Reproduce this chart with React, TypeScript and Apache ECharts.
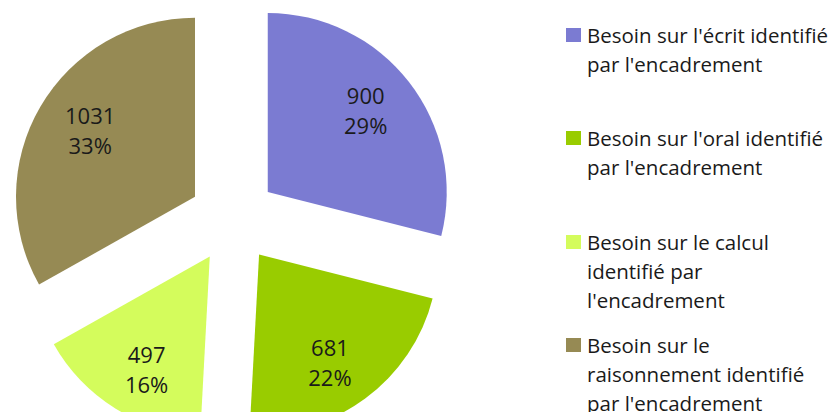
import React, { useEffect, useRef } from "react";
import * as echarts from "echarts";

const categories = [
  "Besoin sur l'écrit identifié par l'encadrement",
  "Besoin sur l'oral identifié par l'encadrement",
  "Besoin sur le calcul identifié par l'encadrement",
  "Besoin sur le raisonnement identifié par l'encadrement",
];
const legendLabels = [
  "Besoin sur l'écrit identifié\npar l'encadrement",
  "Besoin sur l'oral identifié\npar l'encadrement",
  "Besoin sur le calcul\nidentifié par\nl'encadrement",
  "Besoin sur le\nraisonnement identifié\npar l'encadrement",
];
const values = [900, 681, 497, 1031];
const colors = ["#7b7bd2", "#99cc00", "#d4fc5c", "#968a54"];

// layout / style constants (not data)
const legendFirstLineY = [35, 138, 242, 345];
const labelNudge = [
  [-7, -8],
  [-8, 0],
  [7, 2],
  [10, -5],
];

const FONT = "'Open Sans', 'Noto Sans', sans-serif";

function nudgePadding(dx: number, dy: number) {
  // [top, right, bottom, left]
  return [
    dy > 0 ? 2 * dy : 0,
    dx < 0 ? -2 * dx : 0,
    dy < 0 ? -2 * dy : 0,
    dx > 0 ? 2 * dx : 0,
  ];
}

export default function App() {
  const ref = useRef<HTMLDivElement>(null);
  useEffect(() => {
    if (!ref.current) return;
    const chart = echarts.init(ref.current, undefined, { renderer: "svg" });
    const total = values.reduce((a, b) => a + b, 0);
    const data = categories.map((name, i) => ({
      name,
      value: values[i],
      selected: true,
      itemStyle: { color: colors[i] },
    }));
    const labelData = categories.map((name, i) => ({
      name,
      value: values[i],
      selected: true,
      itemStyle: { color: "rgba(0,0,0,0)" },
      label: { padding: nudgePadding(labelNudge[i][0], labelNudge[i][1]) },
    }));
    const legendGraphics: any[] = [];
    legendLabels.forEach((t, i) => {
      const cy = legendFirstLineY[i];
      legendGraphics.push({
        type: "rect",
        shape: { x: 566, y: cy - 7, width: 15, height: 14 },
        style: { fill: colors[i] },
      });
      legendGraphics.push({
        type: "text",
        x: 587,
        y: cy - 14.5,
        style: {
          text: t,
          fill: "#1a1a1a",
          font: `20.5px ${FONT}`,
          lineHeight: 29,
          verticalAlign: "top",
          align: "left",
        },
      });
    });
    chart.setOption({
      animation: false,
      backgroundColor: "#ffffff",
      graphic: legendGraphics,
      series: [
        {
          type: "pie",
          center: [233, 219],
          radius: [0, 179],
          startAngle: 90,
          clockwise: true,
          selectedMode: "multiple",
          selectedOffset: 44,
          silent: true,
          label: { show: false },
          labelLine: { show: false },
          emphasis: { disabled: true },
          data,
        },
        {
          type: "pie",
          center: [233, 219],
          radius: [120, 140],
          startAngle: 90,
          clockwise: true,
          selectedMode: "multiple",
          selectedOffset: 44,
          silent: true,
          emphasis: { disabled: true },
          labelLine: { show: false },
          label: {
            show: true,
            position: "inside",
            color: "#1a1a1a",
            fontFamily: FONT,
            fontSize: 22,
            lineHeight: 30,
            formatter: (p: any) => `${p.value}\n${Math.round((p.value / total) * 100)}%`,
          },
          data: labelData,
        },
      ],
    });
    return () => chart.dispose();
  }, []);
  return (
    <div
      ref={ref}
      style={{ position: "absolute", left: 0, top: 0, width: 837, height: 412, background: "#fff" }}
    />
  );
}
